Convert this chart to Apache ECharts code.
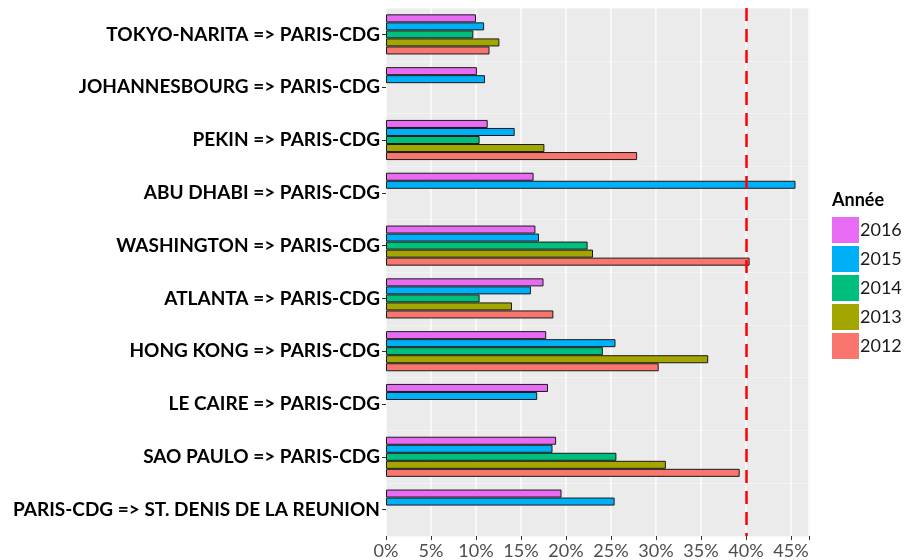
<!DOCTYPE html>
<html>
<head>
<meta charset="utf-8">
<script src="https://cdn.jsdelivr.net/npm/echarts@6/dist/echarts.min.js"></script>
<style>
html,body{margin:0;padding:0;background:#fff;}
#chart{width:904px;height:560px;}
</style>
</head>
<body>
<div id="chart"></div>
<script>
// routes, top to bottom
const routes=[
    "TOKYO-NARITA => PARIS-CDG",
    "JOHANNESBOURG => PARIS-CDG",
    "PEKIN => PARIS-CDG",
    "ABU DHABI => PARIS-CDG",
    "WASHINGTON => PARIS-CDG",
    "ATLANTA => PARIS-CDG",
    "HONG KONG => PARIS-CDG",
    "LE CAIRE => PARIS-CDG",
    "SAO PAULO => PARIS-CDG",
    "PARIS-CDG => ST. DENIS DE LA REUNION"
];

const years=["2016","2015","2014","2013","2012"];

const colors=["#E76BF3","#00B0F6","#00BF7D","#A3A500","#F8766D"];

// values in %, null = no data
const v2016=[10.0,10.1,11.3,16.4,16.6,17.5,17.8,18.0,18.9,19.5];
const v2015=[10.9,11.0,14.3,45.5,17.0,16.1,25.5,16.8,18.5,25.4];
const v2014=[9.7,null,10.4,null,22.4,10.4,24.1,null,25.6,null];
const v2013=[12.6,null,17.6,null,23.0,14.0,35.8,null,31.1,null];
const v2012=[11.5,null,27.9,null,40.4,18.6,30.3,null,39.3,null];

const xTicks=[0,5,10,15,20,25,30,35,40,45];
const threshold=40;

const seriesValues=[v2016,v2015,v2014,v2013,v2012];

const chart=echarts.init(document.getElementById("chart"));

const series=years.map((year,i)=>({
    name:year,
    type:"bar",
    data:seriesValues[i],
    barGap:0,
    barCategoryGap:"24%",
    itemStyle:{
        color:colors[i],
        borderColor:"#1a1a1a",
        borderWidth:1
    },
    emphasis:{disabled:true}
}));

series[0].markLine={
    silent:true,
    symbol:"none",
    label:{show:false},
    lineStyle:{
        color:"#ff0000",
        type:[13,8],
        width:2.5
    },
    data:[{xAxis:threshold}]
};

chart.setOption({
    backgroundColor:"#ffffff",
    animation:false,
    title:{
        text:"Année",
        left:827,
        top:186,
        textStyle:{
            fontFamily:"Lato",
            fontWeight:"bold",
            fontSize:18,
            color:"#000"
        }
    },
    legend:{
        orient:"vertical",
        left:827,
        top:212,
        itemWidth:27,
        itemHeight:26,
        itemGap:3,
        icon:"rect",
        data:years,
        itemStyle:{borderWidth:0},
        textStyle:{
            fontFamily:"Lato",
            fontSize:18,
            color:"#1a1a1a",
            padding:[0,0,0,-4]
        }
    },
    grid:{
        left:386,
        right:95,
        top:8,
        bottom:22,
        show:true,
        backgroundColor:"#EBEBEB",
        borderWidth:0
    },
    xAxis:[
        {
            type:"value",
            min:0,
            max:47,
            interval:5,
            axisLine:{show:false},
            axisTick:{show:true,length:4,lineStyle:{color:"#333"}},
            axisLabel:{
                formatter:v=>xTicks.includes(v)?v+"%":"",
                fontFamily:"Lato",
                fontSize:18,
                color:"#4d4d4d",
                margin:6
            },
            splitLine:{show:true,lineStyle:{color:"#ffffff",width:1.5}}
        },
        {
            // minor grid lines
            type:"value",
            min:-2.5,
            max:44.5,
            interval:5,
            show:true,
            position:"bottom",
            axisLine:{show:false},
            axisTick:{show:false},
            axisLabel:{show:false},
            splitLine:{show:true,lineStyle:{color:"#F5F5F5",width:0.8}}
        }
    ],
    yAxis:{
        type:"category",
        data:routes,
        inverse:true,
        axisLine:{show:false},
        axisTick:{show:true,alignWithLabel:true,length:4,lineStyle:{color:"#333"}},
        axisLabel:{
            fontFamily:"Lato",
            fontWeight:"bold",
            fontSize:19,
            color:"#000",
            margin:6
        },
        splitLine:{show:true,lineStyle:{color:"#F5F5F5",width:0.8}}
    },
    series:series
});
</script>
</body>
</html>
